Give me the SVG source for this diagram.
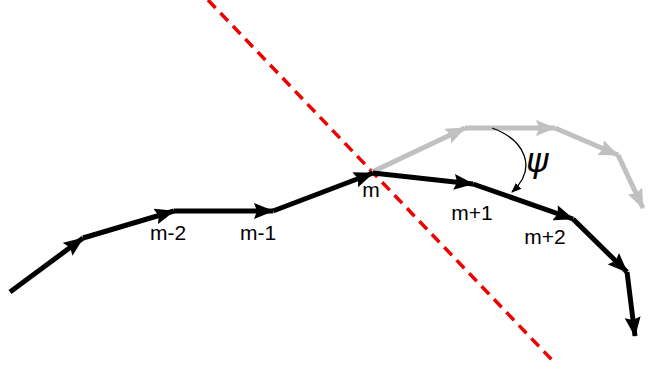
<svg xmlns="http://www.w3.org/2000/svg" width="648" height="373" viewBox="0 0 648 373">
<defs>
<marker id="ab" markerUnits="userSpaceOnUse" markerWidth="20" markerHeight="16" refX="19" refY="8" orient="auto"><path d="M0,0 L20,8 L0,16 L3,8 Z" fill="#000"/></marker>
<marker id="ag" markerUnits="userSpaceOnUse" markerWidth="20" markerHeight="16" refX="19" refY="8" orient="auto"><path d="M0,0 L20,8 L0,16 L3,8 Z" fill="#c0c0c0"/></marker>
<marker id="as" markerUnits="userSpaceOnUse" markerWidth="10" markerHeight="8" refX="9" refY="4" orient="auto"><path d="M0,0 L10,4 L0,8 Z" fill="#000"/></marker>
</defs>
<style>
.b{stroke:#000;stroke-width:5;fill:none;marker-end:url(#ab)}
.g{stroke:#c0c0c0;stroke-width:5;fill:none;marker-end:url(#ag)}
.t{font-family:"Liberation Sans",Arial,sans-serif;font-size:21px;fill:#000;text-anchor:middle}
</style>
<rect width="648" height="373" fill="#fff"/>
<g id="cut">
<line x1="208" y1="0" x2="552" y2="360" stroke="#e00" stroke-width="3.5" stroke-dasharray="11,7"/>
</g>
<g id="connectors">
<line class="g" x1="372" y1="172" x2="465" y2="128"/>
<line class="g" x1="465" y1="128" x2="555" y2="128"/>
<line class="g" x1="555" y1="128" x2="618" y2="155"/>
<line class="g" x1="618" y1="155" x2="643" y2="208"/>
<line class="b" x1="10" y1="292" x2="83" y2="238"/>
<line class="b" x1="83" y1="238" x2="174" y2="211"/>
<line class="b" x1="174" y1="211" x2="273" y2="211"/>
<line class="b" x1="273" y1="211" x2="373" y2="173"/>
<line class="b" x1="373" y1="173" x2="473" y2="184"/>
<line class="b" x1="473" y1="184" x2="573" y2="219"/>
<line class="b" x1="573" y1="219" x2="627" y2="272"/>
<line class="b" x1="627" y1="272" x2="635" y2="336"/>
<path d="M492,128 C525,140 538,168 512,192" stroke="#000" stroke-width="1.3" fill="none" marker-end="url(#as)"/>
</g>
<g id="labels">
<text class="t" x="168" y="240">m-2</text>
<text class="t" x="258" y="240">m-1</text>
<text class="t" x="371" y="197">m</text>
<text class="t" x="472" y="220">m+1</text>
<text class="t" x="545" y="244">m+2</text>
<text x="526" y="172" font-family="'DejaVu Sans',sans-serif" font-style="italic" font-size="34" fill="#000">ψ</text>
</g>
</svg>
